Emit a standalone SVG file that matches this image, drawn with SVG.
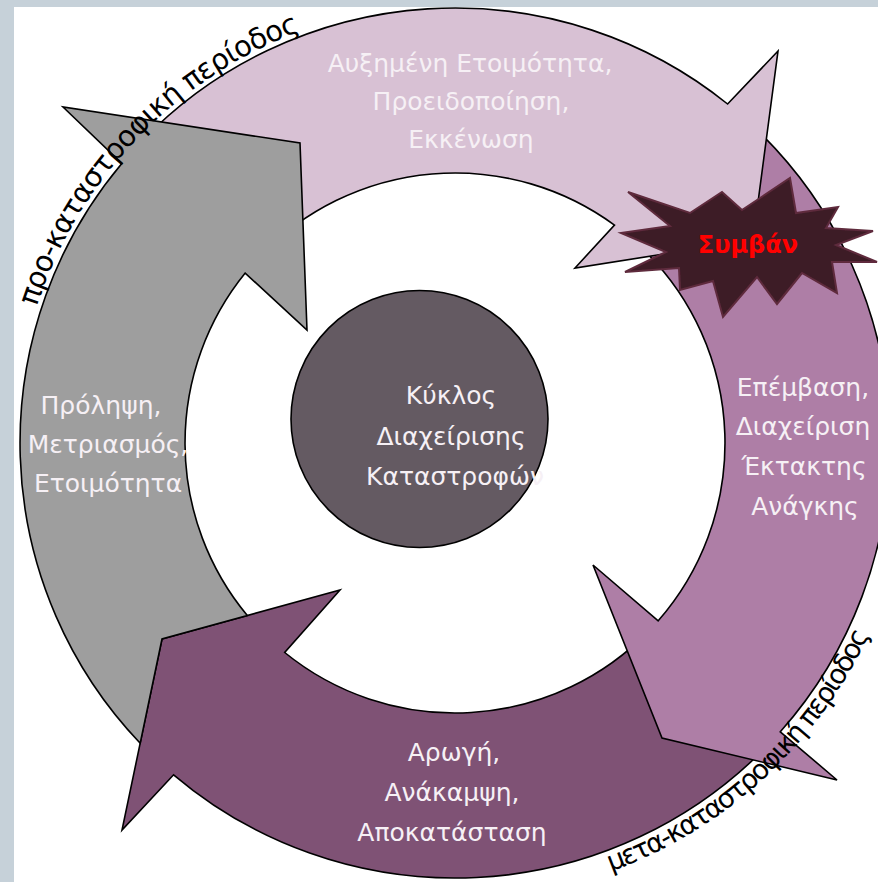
<svg xmlns="http://www.w3.org/2000/svg" width="878" height="882" viewBox="0 0 878 882">
<style>
.arrow{stroke:#000;stroke-width:1.6;stroke-linejoin:miter}
.lbl{font-family:"DejaVu Sans","Liberation Sans",sans-serif;font-size:25px;fill:#f6f0f5;text-anchor:middle}
.outer{font-family:"DejaVu Sans","Liberation Sans",sans-serif;font-size:29px;fill:#000}
</style>
<defs>
<path id="arcTop" d="M36.5,307 A440,440 0 0 1 378.6,9.7"/>
<path id="arcBot" d="M611,871.5 A456,456 0 0 0 904.1,522.2"/>
<filter id="soft" x="-10%" y="-10%" width="120%" height="120%"><feGaussianBlur stdDeviation="0.7"/></filter>
</defs>
<rect x="0" y="0" width="878" height="882" fill="#ffffff"/>
<rect x="0" y="0" width="14" height="882" fill="#c6d1d9"/>
<rect x="0" y="0" width="878" height="7" fill="#c6d1d9"/>

<g id="arrow-response">
<path class="arrow" fill="#7f5275" d="M767.9,745.2 A435,435 0 0 1 173.6,774.8 L122,830 L162,639 L340,590 L284.7,652.5 A270,270 0 0 0 649.2,630.6 Z"/>
</g>
<g id="arrow-emergency">
<path class="arrow" fill="#ae7ea6" d="M762.6,135.4 A435,435 0 0 1 780.3,731.8 L837,780 L662,738 L593,565 L658.2,620.8 A270,270 0 0 0 645.9,252.1 Z"/>
</g>
<g id="arrow-warning">
<path class="arrow" fill="#d8c1d4" d="M142.1,140.8 A435,435 0 0 1 727.6,104 L778,51 L753,240 L575,268 L614.5,225.1 A270,270 0 0 0 260.8,255.4 Z"/>
</g>
<g id="arrow-prevention">
<path class="arrow" fill="#9e9e9e" d="M140.2,743.2 A435,435 0 0 1 121.8,163.4 L63,107 L300,143 L307,330 L245.2,273.1 A270,270 0 0 0 247.3,615.5 L162,639 Z"/>
</g>

<g id="connectors"></g>

<g id="label-warning">
<text class="lbl" x="470" y="72">Αυξημένη Ετοιμότητα,</text>
<text class="lbl" x="471" y="110">Προειδοποίηση,</text>
<text class="lbl" x="471" y="148">Εκκένωση</text>
</g>
<g id="label-emergency">
<text class="lbl" x="803" y="396">Επέμβαση,</text>
<text class="lbl" x="803" y="435">Διαχείριση</text>
<text class="lbl" x="804" y="475">Έκτακτης</text>
<text class="lbl" x="805" y="515">Ανάγκης</text>
</g>
<g id="label-response">
<text class="lbl" x="454" y="761">Αρωγή,</text>
<text class="lbl" x="452" y="801">Ανάκαμψη,</text>
<text class="lbl" x="452" y="841">Αποκατάσταση</text>
</g>
<g id="label-prevention">
<text class="lbl" x="101" y="414">Πρόληψη,</text>
<text class="lbl" x="108" y="453">Μετριασμός,</text>
<text class="lbl" x="108" y="492">Ετοιμότητα</text>
</g>

<g id="center">
<circle cx="419.5" cy="419" r="128.5" fill="#645a62" stroke="#000" stroke-width="1.6"/>
<text class="lbl" x="451" y="404">Κύκλος</text>
<text class="lbl" x="451" y="445">Διαχείρισης</text>
<text class="lbl" x="455" y="485">Καταστροφών</text>
</g>

<g id="event">
<polygon fill="#3e1c27" stroke="#5e2c3c" stroke-width="2" filter="url(#soft)" points="621,233 670,226 628,192 690,213 722,192 742,210 790,178 796,213 838,207 826,228 873,231 836,245 877,262 832,262 837,293 802,273 777,304 757,277 723,317 713,281 680,290 679,268 625,272 666,252"/>
<text x="748" y="253" font-family="DejaVu Sans,Liberation Sans,sans-serif" font-size="24" font-weight="bold" fill="#ff0000" text-anchor="middle">Συμβάν</text>
</g>

<g id="period-pre">
<text class="outer"><textPath href="#arcTop" textLength="395" lengthAdjust="spacing">προ-καταστροφική περίοδος</textPath></text>
</g>
<g id="period-post">
<text class="outer" style="font-size:27.5px"><textPath href="#arcBot" textLength="360" lengthAdjust="spacing">μετα-καταστροφική περίοδος</textPath></text>
</g>
</svg>
